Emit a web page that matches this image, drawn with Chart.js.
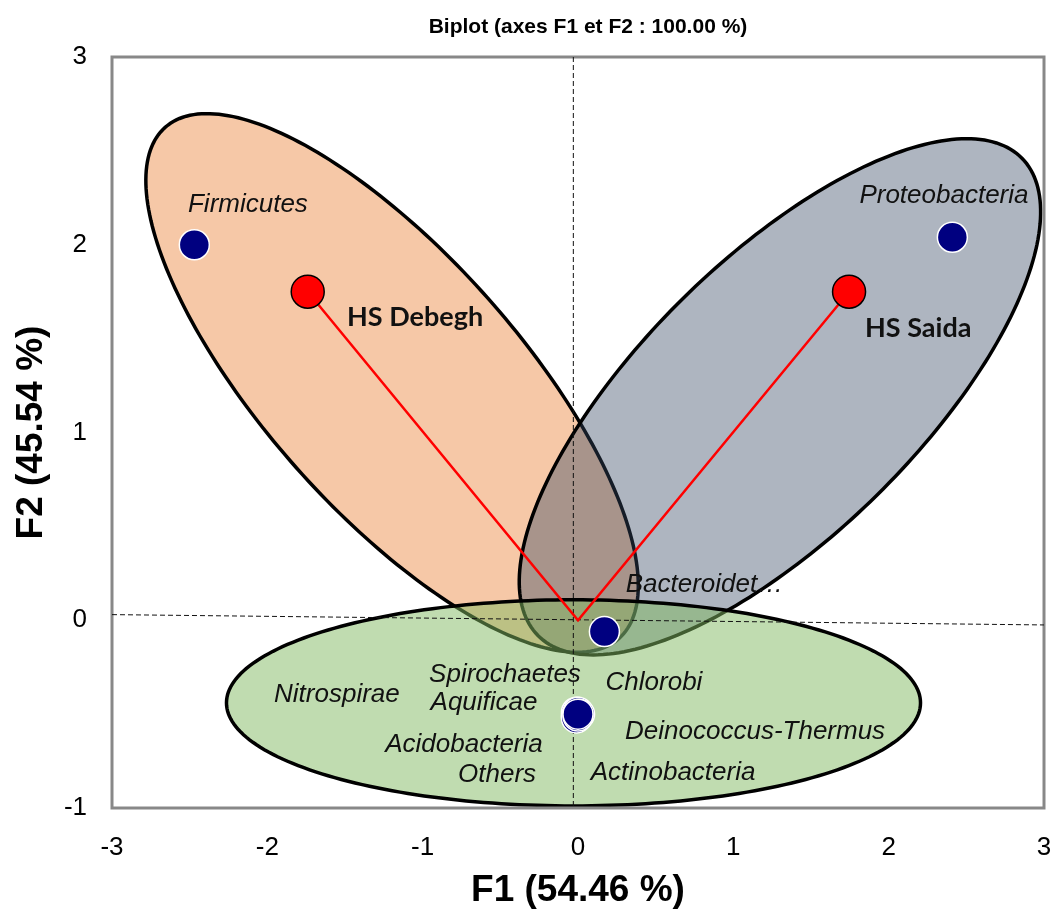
<!DOCTYPE html>
<html>
<head>
<meta charset="utf-8">
<script src="https://cdn.jsdelivr.net/npm/chart.js@4.4.1/dist/chart.umd.min.js"></script>
<style>
  html, body { margin: 0; padding: 0; background: #fff; overflow: hidden; }
  canvas { display: block; }
</style>
</head>
<body>
<canvas id="biplot" width="1055" height="913"></canvas>
<script>
// Phyla (variables) coordinates on F1 / F2
const phyla = ['Firmicutes', 'Proteobacteria', 'Bacteroidet…', 'Spirochaetes', 'Chlorobi', 'Nitrospirae',
    'Aquificae', 'Deinococcus-Thermus', 'Acidobacteria', 'Others', 'Actinobacteria'];
const phylaF1 = [-2.47, 2.41, 0.17, -0.01, 0.00, -0.01, 0.00, 0.01, -0.01, 0.00, 0.00];
const phylaF2 = [2.00, 2.04, -0.06, -0.49, -0.50, -0.51, -0.49, -0.50, -0.52, -0.51, -0.50];

// Sites (observations)
const sites = ['HS Debegh', 'HS Saida'];
const sitesF1 = [-1.74, 1.745];
const sitesF2 = [1.75, 1.75];

// label anchors (data units)
const phylaLabelX = [-2.125, 2.356, 0.814, -0.470, 0.489, -1.552, -0.605, 1.140, -0.734, -0.521, 0.612];
const phylaLabelY = [2.212, 2.260, 0.188, -0.291, -0.334, -0.397, -0.439, -0.593, -0.664, -0.824, -0.813];
const siteLabelX = [-1.487, 1.848];
const siteLabelY = [1.611, 1.557];

// group ellipses: centre, end of major half-axis, end of minor half-axis (data units)
const ellCenter = [[-1.197, 1.264], [1.300, 1.190], [-0.029, -0.440]];
const ellMajor = [[0.264, -0.097], [2.858, 2.461], [2.205, -0.440]];
const ellMinor = [[-0.582, 1.717], [1.924, 0.666], [-0.029, 0.109]];
const ellFill = ['#F6C8A7', 'rgba(52,70,98,0.4)', 'rgba(129,185,97,0.5)'];

// dashed reference axes (slightly off as in the source)
const hAxisX = [-3, 3];
const hAxisY = [0.03, -0.025];
const vAxisX = [-0.03, -0.03];
const vAxisY = [3, -1];

const xTicks = [-3, -2, -1, 0, 1, 2, 3];
const yTicks = [-1, 0, 1, 2, 3];

const sans = '"Liberation Sans", Arial, sans-serif';

const ellipsePlugin = {
    id: 'ellipses',
    beforeDatasetsDraw(chart) {
        const {ctx, chartArea, scales: {x, y}} = chart;
        ctx.save();
        for (let i = 0; i < ellCenter.length; i++) {
            const c = ellCenter[i], a = ellMajor[i], b = ellMinor[i];
            ctx.beginPath();
            for (let k = 0; k <= 240; k++) {
                const t = k / 240 * Math.PI * 2;
                const dx = c[0] + (a[0] - c[0]) * Math.cos(t) + (b[0] - c[0]) * Math.sin(t);
                const dy = c[1] + (a[1] - c[1]) * Math.cos(t) + (b[1] - c[1]) * Math.sin(t);
                const px = x.getPixelForValue(dx), py = y.getPixelForValue(dy);
                if (k === 0) ctx.moveTo(px, py); else ctx.lineTo(px, py);
            }
            ctx.closePath();
            ctx.fillStyle = ellFill[i];
            ctx.fill();
            ctx.lineWidth = 3.5;
            ctx.strokeStyle = '#000';
            ctx.stroke();
        }
        // plot frame
        ctx.lineWidth = 3;
        ctx.strokeStyle = '#888888';
        ctx.strokeRect(chartArea.left, chartArea.top, chartArea.right - chartArea.left, chartArea.bottom - chartArea.top);
        ctx.restore();
    }
};

const labelPlugin = {
    id: 'labels',
    afterDatasetsDraw(chart) {
        const {ctx, scales: {x, y}} = chart;
        ctx.save();
        ctx.fillStyle = '#111';
        ctx.textBaseline = 'middle';
        ctx.textAlign = 'center';
        ctx.font = 'italic 26px ' + sans;
        phyla.forEach((name, i) => {
            ctx.fillText(name, x.getPixelForValue(phylaLabelX[i]), y.getPixelForValue(phylaLabelY[i]));
        });
        ctx.textAlign = 'left';
        ctx.font = 'bold 27px Lato, "Open Sans", sans-serif';
        sites.forEach((name, i) => {
            ctx.fillText(name, x.getPixelForValue(siteLabelX[i]), y.getPixelForValue(siteLabelY[i]));
        });
        // chart title
        ctx.textAlign = 'center';
        ctx.fillStyle = '#000';
        ctx.font = 'bold 21px ' + sans;
        ctx.fillText('Biplot (axes F1 et F2 : 100.00 %)', 588, 27);
        ctx.restore();
    }
};

new Chart(document.getElementById('biplot'), {
    type: 'scatter',
    data: {
        datasets: [
            {
                label: 'Phyla',
                data: phylaF1.map((v, i) => ({x: v, y: phylaF2[i]})),
                pointRadius: 15,
                pointBackgroundColor: '#000080',
                pointBorderColor: '#ffffff',
                pointBorderWidth: 1.5
            },
            {
                label: 'Sites',
                data: sitesF1.map((v, i) => ({x: v, y: sitesF2[i]})),
                pointRadius: 16.5,
                pointBackgroundColor: '#ff0000',
                pointBorderColor: '#000000',
                pointBorderWidth: 1.5
            },
            {
                type: 'line',
                label: 'vectors',
                data: [{x: sitesF1[0], y: sitesF2[0]}, {x: 0, y: 0}, {x: sitesF1[1], y: sitesF2[1]}],
                borderColor: '#ff0000',
                borderWidth: 2.5,
                pointRadius: 0,
                fill: false
            },
            {
                type: 'line',
                label: 'h0',
                data: hAxisX.map((v, i) => ({x: v, y: hAxisY[i]})),
                borderColor: '#111',
                borderWidth: 1,
                borderDash: [5, 3],
                pointRadius: 0
            },
            {
                type: 'line',
                label: 'v0',
                data: vAxisX.map((v, i) => ({x: v, y: vAxisY[i]})),
                borderColor: '#111',
                borderWidth: 1,
                borderDash: [5, 3],
                pointRadius: 0
            }
        ]
    },
    options: {
        responsive: false,
        maintainAspectRatio: false,
        animation: false,
        devicePixelRatio: 1,
        layout: {
            autoPadding: false,
            padding: {top: 57, right: 11, left: 0, bottom: 0}
        },
        plugins: {
            legend: {display: false},
            tooltip: {enabled: false},
            title: {display: false}
        },
        scales: {
            x: {
                type: 'linear',
                min: -3,
                max: 3,
                afterBuildTicks: (s) => { s.ticks = xTicks.map(v => ({value: v})); },
                afterFit: (s) => { s.height = 105; s.paddingLeft = 0; s.paddingRight = 0; },
                grid: {display: false, drawTicks: false},
                border: {display: false},
                ticks: {color: '#000', font: {size: 26, family: sans}, padding: 24, maxRotation: 0},
                title: {
                    display: true,
                    text: 'F1 (54.46 %)',
                    color: '#000',
                    font: {size: 37, weight: 'bold', family: sans},
                    padding: {top: 0, bottom: 0}
                }
            },
            y: {
                type: 'linear',
                min: -1,
                max: 3,
                afterBuildTicks: (s) => { s.ticks = yTicks.map(v => ({value: v})); },
                afterFit: (s) => { s.width = 112; s.paddingTop = 0; s.paddingBottom = 0; },
                grid: {display: false, drawTicks: false},
                border: {display: false},
                ticks: {color: '#000', font: {size: 26, family: sans}, padding: 25},
                title: {
                    display: true,
                    text: 'F2 (45.54 %)',
                    color: '#000',
                    font: {size: 37, weight: 'bold', family: sans},
                    padding: {top: 10, bottom: 0}
                }
            }
        }
    },
    plugins: [ellipsePlugin, labelPlugin]
});
</script>
</body>
</html>
